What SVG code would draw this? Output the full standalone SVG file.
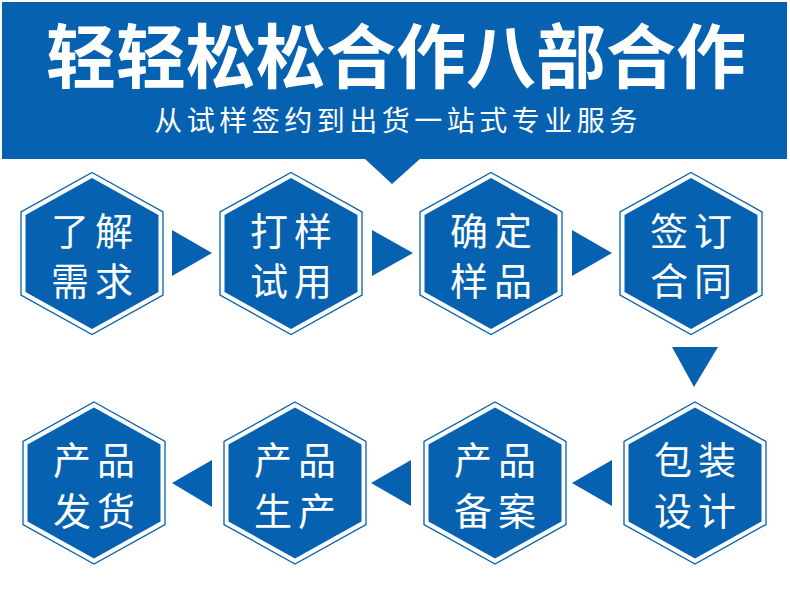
<svg xmlns="http://www.w3.org/2000/svg" width="790" height="612" viewBox="0 0 790 612">
<style>
.title{font-family:"Noto Sans CJK SC","Noto Sans",sans-serif;font-weight:700;font-size:70px;fill:#fff}
.sub{font-family:"Noto Sans CJK SC","Noto Sans",sans-serif;font-size:28px;fill:#fff;letter-spacing:4.5px}
.lbl{font-family:"Noto Sans CJK SC","Noto Sans",sans-serif;font-size:38px;fill:#fff;letter-spacing:6px;text-anchor:middle}
.arrow{fill:#0662b0}
</style>
<defs>
<g id="hex">
<polygon points="0,-81 71,-41.5 71,41.5 0,81 -71,41.5 -71,-41.5" fill="#fff" stroke="#0662b0" stroke-width="1.3"/>
<polygon points="0,-75.5 66.5,-38.5 66.5,38.5 0,75.5 -66.5,38.5 -66.5,-38.5" fill="#0662b0"/>
</g>
</defs>
<rect width="790" height="612" fill="#fff"/>
<g id="banner">
<rect x="2" y="2" width="785" height="157" fill="#0662b0"/>
<polygon points="364,158 421,158 392,184" fill="#0662b0"/>
<text class="title" x="396" y="83" text-anchor="middle">轻轻松松合作八部合作</text>
<text class="sub" x="398" y="131" text-anchor="middle">从试样签约到出货一站式专业服务</text>
</g>
<g id="connectors">
<polygon class="arrow" points="172,230 172,276 212,253"/>
<polygon class="arrow" points="372,230 372,276 413,253"/>
<polygon class="arrow" points="572,230 572,276 612,253"/>
<polygon class="arrow" points="672,347 718,347 694,387"/>
<polygon class="arrow" points="612,460 612,506 572,483"/>
<polygon class="arrow" points="411,460 411,506 371,483"/>
<polygon class="arrow" points="212,460 212,507 172,483"/>
</g>
<g id="n1"><use href="#hex" x="92" y="253.5"/><text class="lbl" x="95" y="244.5">了解</text><text class="lbl" x="95" y="294.5">需求</text></g>
<g id="n2"><use href="#hex" x="291" y="253.5"/><text class="lbl" x="294" y="244.5">打样</text><text class="lbl" x="294" y="294.5">试用</text></g>
<g id="n3"><use href="#hex" x="491" y="253.5"/><text class="lbl" x="494" y="244.5">确定</text><text class="lbl" x="494" y="294.5">样品</text></g>
<g id="n4"><use href="#hex" x="691" y="253.5"/><text class="lbl" x="694" y="244.5">签订</text><text class="lbl" x="694" y="294.5">合同</text></g>
<g id="n5"><use href="#hex" x="695" y="483"/><text class="lbl" x="698" y="474">包装</text><text class="lbl" x="698" y="524.5">设计</text></g>
<g id="n6"><use href="#hex" x="495" y="483"/><text class="lbl" x="498" y="474">产品</text><text class="lbl" x="498" y="524.5">备案</text></g>
<g id="n7"><use href="#hex" x="295" y="483"/><text class="lbl" x="298" y="474">产品</text><text class="lbl" x="298" y="524.5">生产</text></g>
<g id="n8"><use href="#hex" x="94" y="483"/><text class="lbl" x="97" y="474">产品</text><text class="lbl" x="97" y="524.5">发货</text></g>
</svg>
